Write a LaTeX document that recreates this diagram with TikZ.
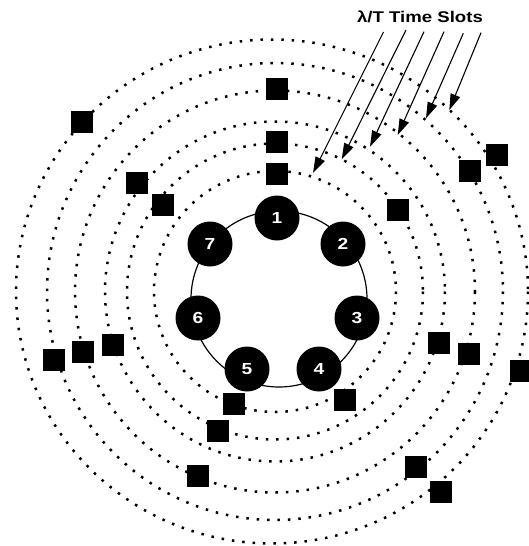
\documentclass[tikz,border=0pt]{standalone}
\usepackage{fontspec}
\setmainfont{Liberation Sans}[FakeStretch=1.2]
\usepackage{tikz}
\usetikzlibrary{arrows.meta}
\tikzset{
  stn/.style={circle,fill=black,text=white,minimum size=45pt,inner sep=0pt,font=\fontsize{16}{19}\selectfont\bfseries},
  pkt/.style={rectangle,fill=black,minimum size=22pt,inner sep=0pt},
  ring/.style={draw=black,line width=2.5pt,dash pattern=on 2.5pt off 7.9pt},
  ptr/.style={-{Triangle[length=16pt,width=10pt]},line width=1.1pt},
  lbl/.style={font=\fontsize{15.5}{18}\selectfont\bfseries,inner sep=0pt},
}

\begin{document}
\begin{tikzpicture}[x=1pt,y=-1pt]
  \useasboundingbox (0,0) rectangle (529,546);
  % dotted time-slot rings
  \foreach \rx/\ry/\cx in {121/120.5/275,148/148/275,170/170/275,200/201/275,228/228.5/275,256/252/272}
    \draw[ring] (\cx,291.5) ellipse [x radius=\rx, y radius=\ry];
  % ring of stations
  \draw[line width=1.2pt] (279,299) circle [radius=88];
  \node[stn] (n1) at (277,218) {1};
  \node[stn] (n2) at (343,244) {2};
  \node[stn] (n3) at (357,318) {3};
  \node[stn] (n4) at (319,369) {4};
  \node[stn] (n5) at (247,369) {5};
  \node[stn] (n6) at (198,318) {6};
  \node[stn] (n7) at (210,244) {7};
  % packets in the slots
  \foreach \x/\y [count=\i] in {82/122,277/89,277/142,277/174,137/183,163/205,398/210,470/171,497/155,
      54/360,83/352,113/345,439/343,469/354,521/371,234/404,345/400,218/431,198/476,416/467,441/492}
    \node[pkt] (p\i) at (\x,\y) {};
  % label and pointers
  \node[lbl,anchor=base] (slots) at (420,22.7) {λ/T Time Slots};
  \foreach \sx/\sy/\tx/\ty [count=\i] in {383.5/32/313/173,406/30/341.7/159.3,424/31.7/370/146.7,
      444/31.7/397.7/135,463.3/33.3/426/118.3,481/32.7/449.3/110}{
    \coordinate (s\i) at (\sx,\sy);
    \coordinate (t\i) at (\tx,\ty);
    \draw[ptr] (s\i) -- (t\i);
  }
\end{tikzpicture}
\end{document}
